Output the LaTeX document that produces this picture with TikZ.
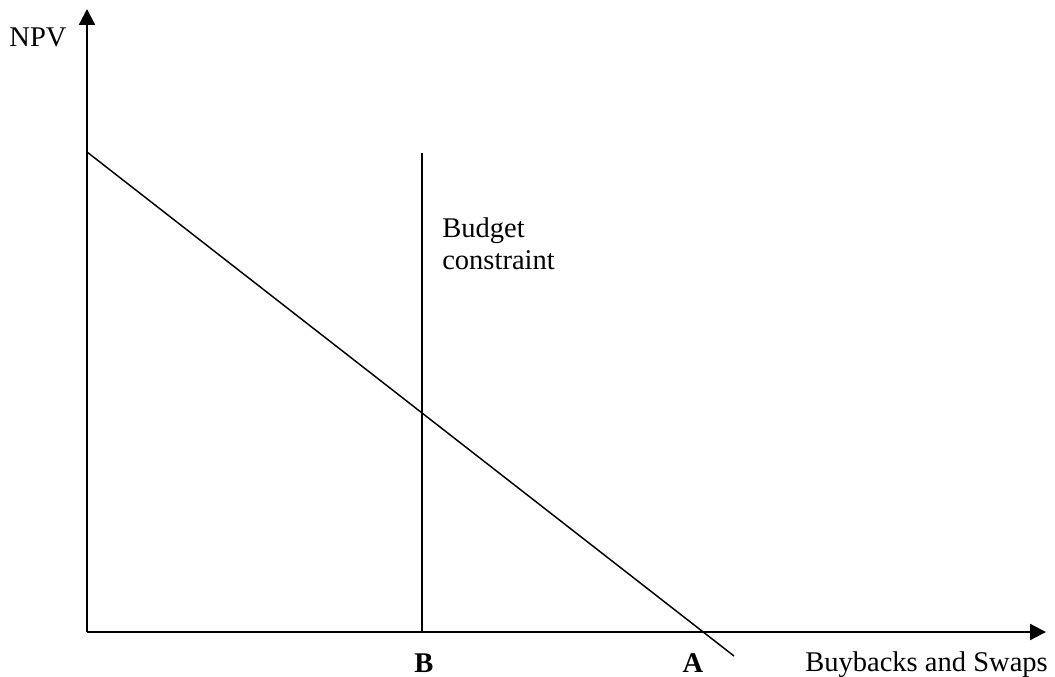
\documentclass[tikz,border=0pt]{standalone}
\usepackage{fontspec}
\setmainfont{Liberation Serif}
\usetikzlibrary{arrows.meta}

\begin{document}
\begin{tikzpicture}[x=0.75pt,y=-0.75pt,
  axis/.style={line width=1.7pt,-{Triangle[length=12pt,width=12pt]}},
  curve/.style={line width=1.1pt},
  lbl/.style={inner sep=0pt,font=\fontsize{21.4}{24}\selectfont}]
\useasboundingbox (0,0) rectangle (1055,677);
\coordinate (origin) at (87,632);
\coordinate (ytop) at (87,9);
\coordinate (xend) at (1046,632);
\coordinate (npvstart) at (87,152);
\coordinate (npvend) at (734,656);
\coordinate (budgettop) at (422,153);
\coordinate (budgetfoot) at (422,632);
\draw[axis] (origin) -- (ytop);
\draw[axis] (origin) -- (xend);
\draw[curve] (npvstart) -- (npvend);
\draw[curve] (budgetfoot) -- (budgettop);
\node[lbl,anchor=base] (npv) at (38,47) {NPV};
\node[lbl,anchor=north west,align=left] (budget) at (442,217) {Budget\\constraint};
\node[lbl,anchor=base] (B) at (424,672) {\textbf{B}};
\node[lbl,anchor=base] (A) at (693,672) {\textbf{A}};
\node[lbl,anchor=base west] (xlabel) at (805,671) {Buybacks and Swaps};
\end{tikzpicture}
\end{document}
